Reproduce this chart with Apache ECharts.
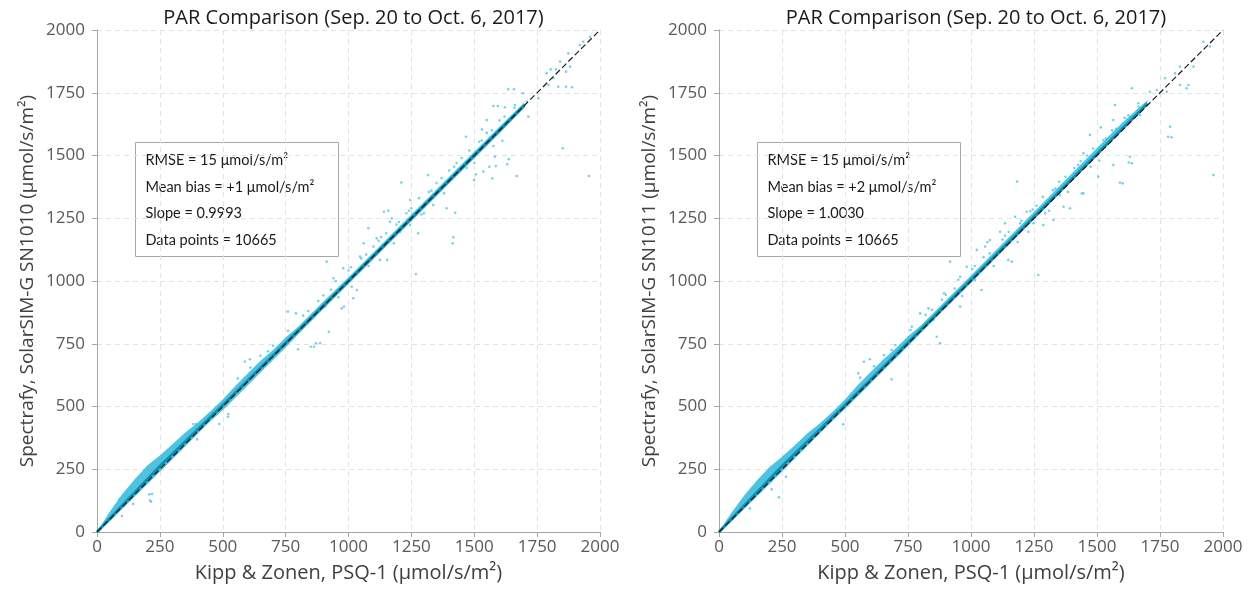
<!DOCTYPE html>
<html>
<head>
<meta charset="utf-8">
<script src="https://cdn.jsdelivr.net/npm/echarts@6/dist/echarts.min.js"></script>
<style>
html,body{margin:0;padding:0;background:#fff;}
#chart{width:1251px;height:592px;}
</style>
</head>
<body>
<div id="chart"></div>
<script>
// ---------- data ----------
const titleText = 'PAR Comparison (Sep. 20 to Oct. 6, 2017)';
const xAxisName = 'Kipp & Zonen, PSQ-1 (μmol/s/m²)';
const yAxisNames = ['Spectrafy, SolarSIM-G SN1010 (μmol/s/m²)', 'Spectrafy, SolarSIM-G SN1011 (μmol/s/m²)'];
const tickValues = [0, 250, 500, 750, 1000, 1250, 1500, 1750, 2000];
const statsLeft = ['RMSE = 15 μmol/s/m²', 'Mean bias = +1 μmol/s/m²', 'Slope = 0.9993', 'Data points = 10665'];
const statsRight = ['RMSE = 15 μmol/s/m²', 'Mean bias = +2 μmol/s/m²', 'Slope = 1.0030', 'Data points = 10665'];

const oneToOne = [[0, 0], [2000, 2000]];

// dense cloud envelope (x, lower y, upper y)
const bandX        = [0, 25, 50, 100, 150, 200, 250, 300, 350, 400, 450, 500, 550, 600, 650, 700, 750, 800, 900, 1000, 1100, 1200, 1300, 1400, 1500, 1600, 1700];
const bandLeftLow  = [0, 20, 42, 92, 140, 190, 240, 290, 340, 390, 440, 485, 535, 585, 635, 685, 735, 787, 888, 988, 1088, 1188, 1288, 1388, 1488, 1588, 1692];
const bandLeftUp   = [0, 40, 80, 150, 210, 265, 305, 350, 395, 435, 480, 528, 582, 632, 682, 725, 775, 818, 918, 1015, 1115, 1215, 1315, 1415, 1515, 1615, 1712];
const bandRightLow = [0, 20, 42, 92, 140, 190, 240, 292, 342, 392, 442, 490, 540, 590, 640, 690, 740, 792, 892, 992, 1094, 1194, 1296, 1398, 1500, 1602, 1701];
const bandRightUp  = [0, 40, 78, 145, 205, 258, 300, 345, 392, 432, 478, 528, 585, 635, 685, 730, 780, 822, 922, 1022, 1124, 1224, 1326, 1428, 1530, 1630, 1720];

// dense core of the cloud
const coreLeft  = [[0, 0], [250, 262], [500, 505], [1000, 1000], [1700, 1700]];
const coreRight = [[0, 0], [250, 262], [500, 505], [1000, 1004], [1700, 1706]];

// scattered points
const pointsLeft = [
  [1852,1529],[1956,1418],[1635,1764],[1669,1418],[1572,1409],[1631,1465],[1560,1455],[1536,1436],[1576,1538],[1582,1495],
  [1612,1559],[1550,1641],[1576,1697],[1622,1692],[1662,1701],[1715,1655],[1693,1748],[1709,1715],[1755,1728],[1795,1781],
  [1834,1774],[1865,1774],[1804,1843],[1874,1907],[1920,1940],[1960,1973],[1881,1854],[1865,1834],[1788,1828],[1814,1808],
  [913,1077],[1417,1174],[1414,1150],[1268,1028],[850,738],[871,752],[1158,1280],[1079,1210],[1125,1084],[1154,1084],
  [1277,1190],[1390,1290],[979,1051],[940,1011],[1019,931],[907,898],[973,891],[1013,977],[1033,964],[1112,1170],
  [1046,1097],[1099,1137],[1205,1196],[1245,1223],[1172,1250],[1337,1303],[1210,1392],[1658,1764],[1889,1772],[1586,1458],
  [1637,1485],[1467,1575],[1531,1604],[1594,1697],[1141,1276],[1165,1236],[1245,1323],[1316,1422],[1499,1402],[1424,1272],
  [1507,1425],[1825,1843],[1841,1874],[1933,1953],[215,121],[219,151],[99,64],[863,738],[887,752],[799,728],
  [922,798],[982,898],[588,679],[608,688],[521,459],[394,430],[759,878],[791,871],[208,150],[211,125],
  [144,112],[89,131],[383,430],[398,369],[522,470],[486,430],
  [1050,1090],[1080,1060],[1150,1190],[1200,1235],[1250,1290],[1300,1270],[1350,1390],[1400,1440],[1450,1490],[1500,1470],
  [1550,1590],[1600,1640],[700,742],[650,702],[560,612],[900,942],[950,1000],[1000,1042],[820,862],[760,802],
  [1060,1150],[1120,1160],[1180,1150],[1230,1270],[1280,1330],[1330,1360],[1380,1350],[1430,1470],[1480,1520],[1530,1560],
  [840,880],[880,920],[930,965],[960,935],[1010,1055],[1070,1105],[1130,1175],[1190,1225],[1240,1280],[1290,1265],
  [1320,1355],[1370,1410],[1420,1455],[1470,1450],[1520,1555],[1570,1600],[1620,1655],[1660,1690],[610,655],[680,720]
];
const pointsRight = [
  [1962,1422],[1790,1615],[1796,1573],[1602,1389],[1638,1768],[1571,1701],[1515,1612],[1565,1641],[1631,1495],[1638,1469],
  [1565,1462],[1505,1416],[1446,1349],[1472,1582],[1446,1509],[1863,1781],[1856,1768],[1829,1781],[1810,1827],[1770,1808],
  [1737,1761],[1710,1754],[1777,1754],[1829,1854],[1883,1854],[1922,1953],[1948,1934],[1664,1708],[1671,1661],
  [917,1077],[1267,1024],[1440,1349],[1367,1296],[1393,1290],[1148,1084],[1162,1077],[1042,964],[1023,1124],[1075,1163],
  [1135,1230],[1175,1256],[1221,1276],[1115,1196],[877,752],[851,845],[893,951],[957,1017],[983,1057],[1327,1243],
  [1287,1223],[1353,1343],[798,871],[831,891],[765,818],[864,778],[957,898],[1016,1004],[1056,1137],[1228,1196],
  [1248,1230],[238,138],[209,170],[266,220],[493,429],[575,678],[599,688],[553,632],[685,608],[123,94],
  [507,519],[533,546],[1782,1575],[1183,1396],[1591,1392],[1626,1472],
  [1050,1095],[1090,1060],[1150,1195],[1200,1240],[1260,1300],[1310,1280],[1350,1395],[1410,1450],[1460,1500],[1510,1480],
  [1560,1600],[1610,1650],[700,745],[655,705],[560,615],[900,945],[950,1005],[1005,1048],[820,865],[760,805],
  [1065,1155],[1125,1165],[1185,1155],[1235,1278],[1285,1335],[1335,1368],[1385,1355],[1435,1478],[1485,1528],[1535,1568],
  [845,885],[885,925],[935,970],[965,940],[1015,1060],[1075,1110],[1135,1180],[1195,1230],[1245,1285],[1295,1270],
  [1325,1362],[1375,1415],[1425,1462],[1475,1455],[1525,1562],[1575,1606],[1625,1660],[1665,1695],[615,660],[685,725]
];

// ---------- chart ----------
const chart = echarts.init(document.getElementById('chart'));
const FONT = '"Open Sans", "DejaVu Sans", sans-serif';
const grids = [
  {left: 97, top: 30, width: 503, height: 502},
  {left: 719, top: 30, width: 504, height: 502}
];
const centers = [348.5, 971];
const boxes = [{x: 135, stats: statsLeft}, {x: 757, stats: statsRight}];

function axisCommon() {
  return {
    type: 'value',
    min: tickValues[0],
    max: tickValues[tickValues.length - 1],
    interval: tickValues[1] - tickValues[0],
    axisLine: {show: true, lineStyle: {color: '#a6a6a6', width: 1}},
    axisTick: {show: true, inside: false, length: 5, lineStyle: {color: '#a6a6a6'}},
    splitLine: {show: true, lineStyle: {color: '#e3e3e3', type: [5, 4], width: 1}},
    nameLocation: 'middle'
  };
}
function tickFmt(v) { return String(v); }

function bandSeries(idx, low, up) {
  return {
    type: 'custom', xAxisIndex: idx, yAxisIndex: idx, z: 2, silent: true,
    data: [0],
    clip: true,
    renderItem: function (params, api) {
      const pts = [];
      for (let i = 0; i < bandX.length; i++) pts.push(api.coord([bandX[i], up[i]]));
      for (let i = bandX.length - 1; i >= 0; i--) pts.push(api.coord([bandX[i], low[i]]));
      return {type: 'polygon', shape: {points: pts}, style: {fill: '#3dbadb', opacity: 0.9}};
    }
  };
}

const series = [];
[[bandLeftLow, bandLeftUp, pointsLeft, coreLeft], [bandRightLow, bandRightUp, pointsRight, coreRight]].forEach(function (d, i) {
  series.push({
    type: 'scatter', xAxisIndex: i, yAxisIndex: i, z: 1, silent: true,
    symbolSize: 2.6, itemStyle: {color: '#62c9e4', opacity: 0.85},
    data: d[2]
  });
  series.push(bandSeries(i, d[0], d[1]));
  series.push({
    type: 'line', xAxisIndex: i, yAxisIndex: i, z: 3, silent: true, symbol: 'none',
    lineStyle: {color: '#0c8fb4', width: 3},
    data: d[3]
  });
  series.push({
    type: 'line', xAxisIndex: i, yAxisIndex: i, z: 4, silent: true, symbol: 'none',
    lineStyle: {color: '#1a1a1a', width: 1.2, type: [6, 3]},
    data: oneToOne
  });
});

const graphic = [];
boxes.forEach(function (b) {
  graphic.push({
    type: 'group', left: b.x, top: 142, z: 100,
    children: [
      {type: 'rect', shape: {x: 0, y: 0, width: 203, height: 114}, style: {fill: '#fff', stroke: '#a6a6a6', lineWidth: 1}},
      {type: 'text', x: 10, y: 5, style: {text: b.stats.join('\n'), fill: '#1a1a1a', font: '14.5px Lato, "Liberation Sans", sans-serif', lineHeight: 26.5}}
    ]
  });
});

chart.setOption({
  animation: false,
  backgroundColor: '#ffffff',
  title: centers.map(function (c) {
    return {text: titleText, left: c, top: 3, textAlign: 'center',
      textStyle: {fontFamily: FONT, fontSize: 20, fontWeight: 'normal', color: '#1a1a1a'}};
  }),
  grid: grids,
  xAxis: [0, 1].map(function (i) {
    return Object.assign(axisCommon(), {gridIndex: i, name: xAxisName, nameGap: 31,
      nameTextStyle: {color: '#404040', fontSize: 20, fontFamily: FONT},
      axisLabel: {color: '#595959', fontSize: 17, fontFamily: FONT, margin: 7, formatter: tickFmt}});
  }),
  yAxis: [0, 1].map(function (i) {
    return Object.assign(axisCommon(), {gridIndex: i, name: yAxisNames[i], nameGap: 60,
      nameTextStyle: {color: '#404040', fontSize: 19, fontFamily: FONT},
      axisLabel: {color: '#595959', fontSize: 17, fontFamily: FONT, margin: 12, formatter: tickFmt}});
  }),
  series: series,
  graphic: graphic
});
</script>
</body>
</html>
